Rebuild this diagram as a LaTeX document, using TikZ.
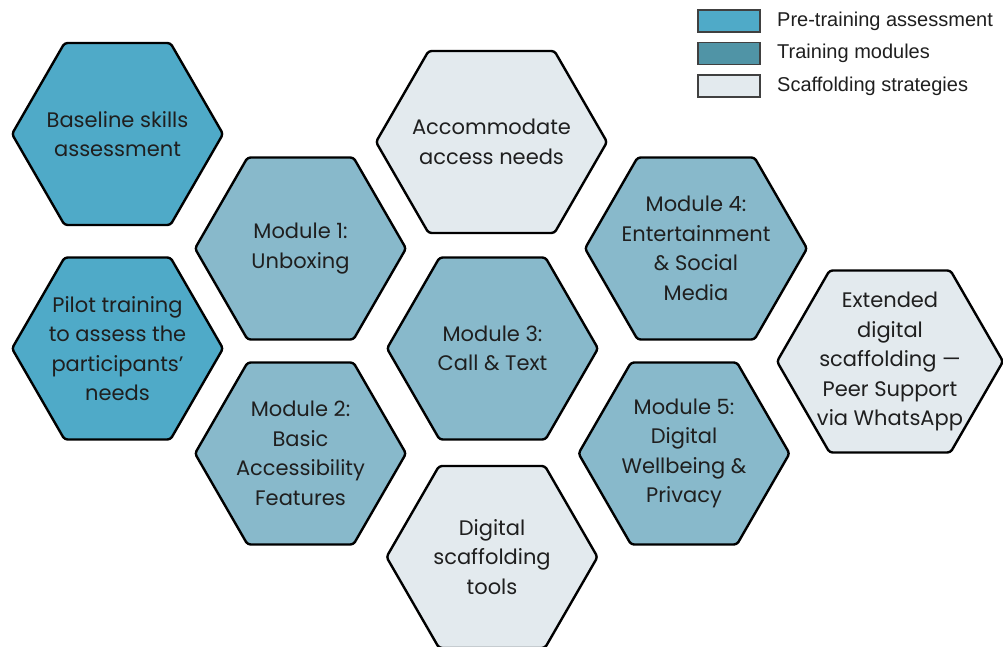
\documentclass[tikz,border=0pt]{standalone}
\usepackage{fontspec}
\setmainfont{Poppins}
\newfontfamily\keyfont{Liberation Sans}
\usetikzlibrary{positioning,shapes.symbols}
\tikzset{
  hexnode/.style = {shape=signal, signal to=east and west, signal pointer angle=120,
  draw=black, line width=2.4pt, rounded corners=3pt, align=center, inner xsep=-50pt, inner ysep=0pt,
  minimum height=182pt, minimum width=211pt, text=black!88,
  font=\fontsize{21}{29.5}\selectfont},
  keybox/.style = {draw=black!75, line width=1.2pt, minimum width=62pt, minimum height=22pt,
  inner sep=0pt, outer sep=0pt},
  keytext/.style = {inner sep=0pt, anchor=west, text=black!88, font=\keyfont\fontsize{20}{22}\selectfont}
}
\definecolor{pre_blue}{RGB}{79, 170, 200}
\definecolor{mod_blue}{RGB}{136, 185, 203}
\definecolor{key_blue}{RGB}{80, 148, 166}
\definecolor{scaf_grey}{RGB}{227, 234, 238}

\begin{document}
\begin{tikzpicture}[x=1pt, y=-1pt,
        	pre/.style={fill=pre_blue},
        	module/.style={fill=mod_blue},
        	scaffold/.style={fill=scaf_grey}]
    \useasboundingbox (0,0) rectangle (1003,647);
    \clip (0,0) rectangle (1003,647);
    % pre-training column
    \node [hexnode, pre] (baseline) at (117.5,134) {Baseline skills\\assessment};
    \node [hexnode, pre] (pilot) at (117.5,348.5) {Pilot training\\to assess the\\participants’\\needs};
    % modules and scaffolding
    \node [hexnode, module] (mod1) at (300.5,248.5) {Module 1:\\Unboxing};
    \node [hexnode, module] (mod2) at (300.5,453.5) {Module 2:\\Basic\\Accessibility\\Features};
    \node [hexnode, scaffold, minimum width=231pt] (access) at (491.5,142) {Accommodate\\access needs};
    \node [hexnode, module] (mod3) at (492.5,348.5) {Module 3:\\Call \& Text};
    \node [hexnode, scaffold] (tools) at (492,557) {Digital\\scaffolding\\tools};
    \node [hexnode, module, minimum width=222pt] (mod4) at (696,248.5) {Module 4:\\Entertainment\\\& Social\\Media};
    \node [hexnode, module] (mod5) at (684,453.5) {Module 5:\\Digital\\Wellbeing \&\\Privacy};
    \node [hexnode, scaffold, minimum width=226pt] (extended) at (890,361.5) {Extended\\digital\\scaffolding —\\Peer Support\\via WhatsApp};
    % legend
    \node [keybox, fill=pre_blue] (key_pre) at (729,21) {};
    \node [keybox, fill=key_blue, below=10.5pt of key_pre] (key_mod) {};
    \node [keybox, fill=scaf_grey, below=10.5pt of key_mod] (key_scaf) {};
    \node [keytext, right=17pt of key_pre] (key_pre_txt) {Pre-training assessment};
    \node [keytext, right=17pt of key_mod] (key_mod_txt) {Training modules};
    \node [keytext, right=17pt of key_scaf] (key_scaf_txt) {Scaffolding strategies};
\end{tikzpicture}
\end{document}
